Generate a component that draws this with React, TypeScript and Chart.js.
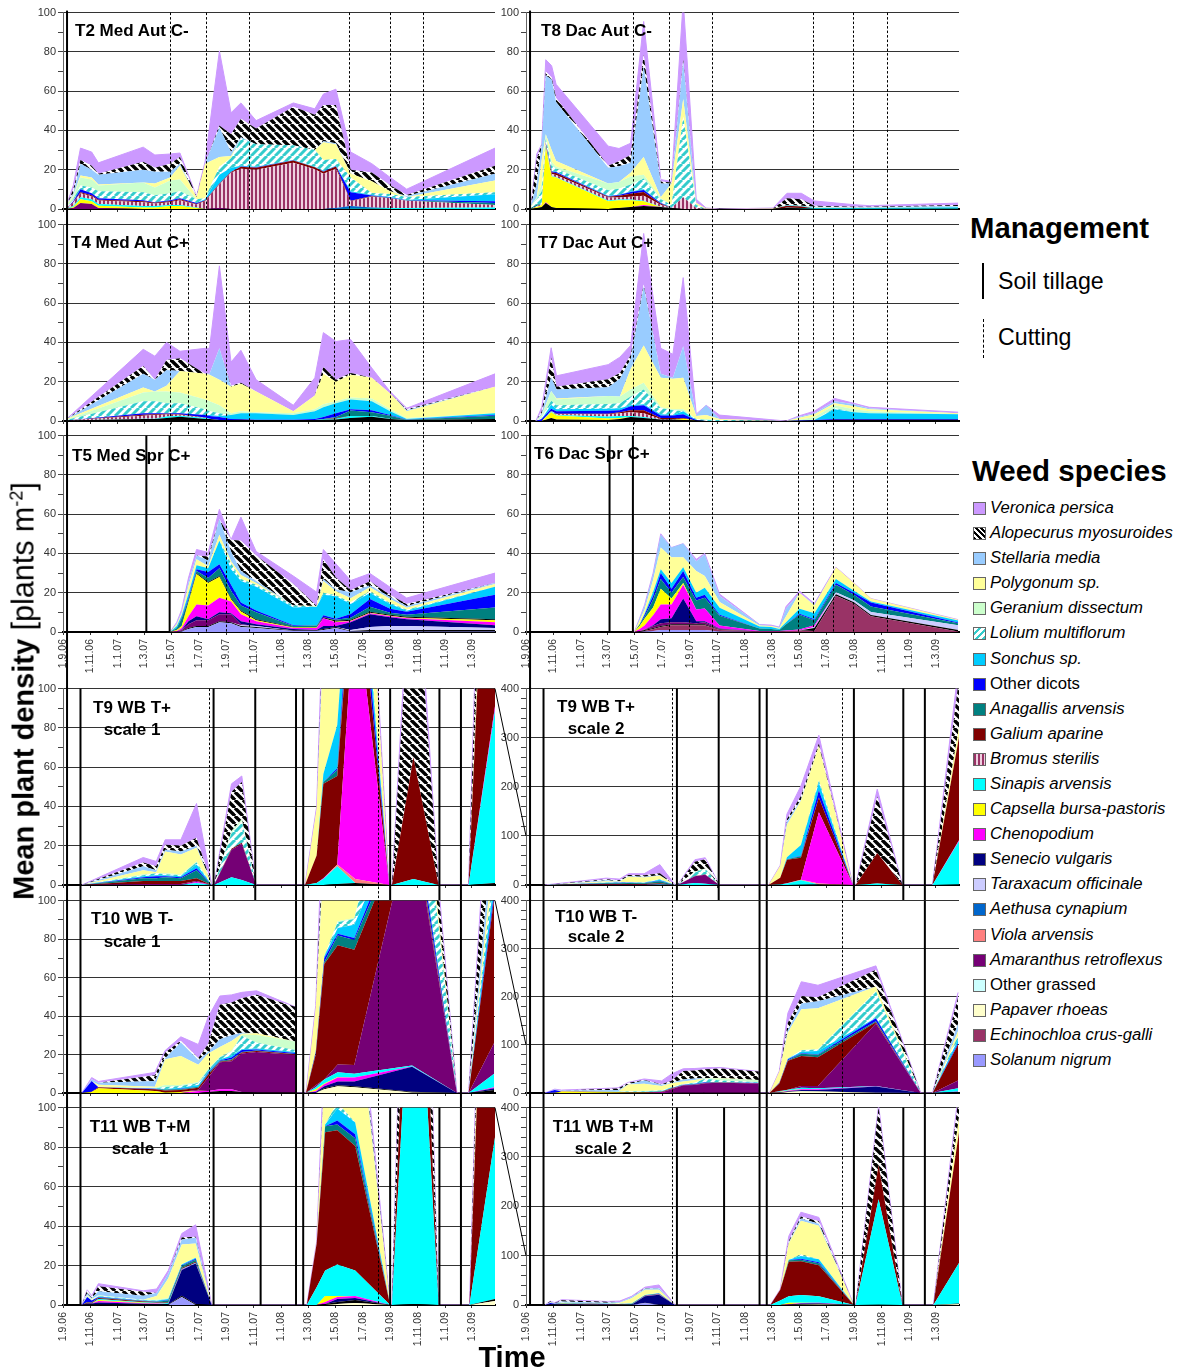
import React, { useEffect, useRef } from "react";
import { Chart, registerables } from "chart.js";

Chart.register(...registerables);

const FONT = '"Liberation Sans", Arial, sans-serif';

const TICK_DAYS = [0, 61, 122, 181, 242, 303, 365, 426, 487, 547, 608, 669, 731, 792, 853, 912];
const TICK_LABELS = ["1.9.06", "1.11.06", "1.1.07", "1.3.07", "1.5.07", "1.7.07", "1.9.07", "1.11.07", "1.1.08", "1.3.08", "1.5.08", "1.7.08", "1.9.08", "1.11.08", "1.1.09", "1.3.09"];

const LEGEND_KEYS = ["veronica", "alopecurus", "stellaria", "polygonum", "geranium", "lolium", "sonchus", "dicots", "anagallis", "galium", "bromus", "sinapis", "capsella", "chenopodium", "senecio", "taraxacum", "aethusa", "viola", "amaranthus", "grassed", "papaver", "echinochloa", "solanum"];
const LEGEND_NAMES = ["Veronica persica", "Alopecurus myosuroides", "Stellaria media", "Polygonum sp.", "Geranium dissectum", "Lolium multiflorum", "Sonchus sp.", "Other dicots", "Anagallis arvensis", "Galium aparine", "Bromus sterilis", "Sinapis arvensis", "Capsella bursa-pastoris", "Chenopodium", "Senecio vulgaris", "Taraxacum officinale", "Aethusa cynapium", "Viola arvensis", "Amaranthus retroflexus", "Other grassed", "Papaver rhoeas", "Echinochloa crus-galli", "Solanum nigrum"];
const LEGEND_UPRIGHT = ["Other dicots", "Other grassed"];

const COLORS: Record<string, string> = {
  veronica: "#CC99FF", stellaria: "#99CCFF", polygonum: "#FFFF99", geranium: "#CCFFCC", sonchus: "#00CCFF",
  dicots: "#0000FF", anagallis: "#008080", galium: "#800000", sinapis: "#00FFFF", capsella: "#FFFF00",
  chenopodium: "#FF00FF", senecio: "#000080", taraxacum: "#CCCCFF", aethusa: "#0066CC", viola: "#FF8080",
  amaranthus: "#750075", grassed: "#CCFFFF", papaver: "#FFFFCC", echinochloa: "#993366", solanum: "#9999FF",
  black: "#000000",
};

// ---- T2
const T2_DAYS = [8, 23, 39, 64, 79, 179, 205, 239, 261, 298, 317, 349, 375, 397, 431, 514, 562, 581, 609, 642, 689, 730, 767, 964];
const T2_AMARANTHUS = [0, 0.5, 3, 2.5, 0.5, 0, 0, 0, 0, 0, 0, 0.5, 0, 0, 0, 0, 0, 0, 0, 0, 0, 0, 0, 0];
const T2_CAPSELLA = [0, 0.5, 2, 1.5, 1.2, 0.8, 0.8, 1.5, 1.5, 0.5, 0, 0, 0, 0, 0, 0, 0, 0, 0, 0, 0, 0, 0, 0];
const T2_SINAPIS = [0.3, 0.5, 1, 1, 0.8, 0.7, 0.7, 0.5, 0.5, 0.3, 0, 0, 0, 0, 0, 0, 0, 0, 0, 0.2, 0.3, 0.5, 0.5, 0.8];
const T2_AETHUSA = [0, 0, 0, 0, 0, 0, 0, 0, 0, 0, 0, 0, 0, 0, 0, 0, 0, 0, 0.5, 1.3, 0.5, 0, 0, 0];
const T2_BROMUS = [0.2, 1.8, 2, 1.5, 1.8, 2, 1.3, 1.5, 2.5, 1.5, 4, 12, 18.5, 20.5, 20, 23.5, 20.2, 18, 20, 2.5, 5.5, 5, 3.7, 1.2];
const T2_GALIUM = [0, 0.2, 0.5, 0.5, 0.4, 0.5, 0.4, 0.5, 0.5, 0.2, 0.3, 0.3, 0.3, 1, 1, 1.2, 1, 1, 1.1, 0.2, 0.2, 0, 0, 0];
const T2_ANAGALLIS = [0, 0, 0, 0, 0, 0, 0, 0, 0, 0, 0, 0, 0, 0, 0, 0, 0, 0, 0, 0, 0.1, 0.1, 0.1, 1];
const T2_DICOTS = [0, 0.5, 1.5, 1, 0.8, 0.5, 0.3, 0.5, 0.5, 0.5, 0.2, 0.2, 0.2, 0.2, 0.2, 0.1, 0.1, 0.2, 0.2, 4.3, 0.3, 0.3, 0.1, 1];
const T2_SONCHUS = [0, 0, 0, 0, 0, 0, 0, 0, 0, 0, 0.5, 4.5, 2, 0.3, 0.3, 0.2, 0.2, 0.3, 0.2, 0.5, 0.2, 0.2, 0.2, 3.5];
const T2_LOLIUM = [0.5, 1, 2, 3, 3.5, 4, 3.5, 3.5, 3.5, 2, 0.5, 4, 5, 14, 11.5, 7.5, 8.5, 5.5, 3.5, 7, 1, 1.5, 1.5, 1];
const T2_GERANIUM = [0.5, 1.5, 4, 4, 3, 5, 4, 6.5, 6, 0, 0, 0, 0, 0, 0, 0, 0, 0, 0, 0, 0, 0, 0, 0];
const T2_POLYGONUM = [0.5, 0.5, 1, 1, 0.5, 0, 2, 1.5, 7, 1, 17.5, 5, 1, 0, 0, 0, 0, 9, 7.5, 2, 6, 1.5, 0, 6];
const T2_STELLARIA = [0, 1, 6, 4, 5, 6.5, 6, 3, 1, 0, 0, 15, 2, 0.5, 0, 0, 0, 0.5, 0.5, 0, 0, 0, 0.5, 3.5];
const T2_ALOPECURUS = [0, 2, 2, 2, 0.5, 4, 2, 4, 3.5, 0.5, 0, 1, 9, 9.5, 8, 19.5, 18, 18.5, 19.5, 2, 4.5, 3, 0.5, 4];
const T2_VERONICA = [0, 2, 6, 7, 5.5, 7.5, 6.5, 5, 2, 0, 1, 38, 11, 8, 4, 2, 3, 5.5, 8, 9, 4.5, 4, 3, 9];

// ---- T8
const T8_DAYS = [11, 24, 35, 44, 57, 67, 183, 207, 233, 262, 300, 324, 350, 379, 401, 431, 550, 581, 613, 642, 730, 764, 962];
const T8_BLACK = [0, 0.5, 1, 3, 1, 0.5, 0, 0.5, 1, 1.5, 1, 0.5, 0, 0, 0, 0, 0, 0.5, 0.3, 0, 0, 0, 0];
const T8_CHENOPODIUM = [0, 0, 0, 0.5, 0, 0, 0, 0, 0, 0.5, 0, 0, 0, 0, 0, 0, 0, 0, 0, 0, 0, 0, 0];
const T8_CAPSELLA = [0, 0.5, 1, 28, 15.5, 15.5, 4, 4, 3.5, 2, 0, 0, 0, 0, 0, 0, 0, 0, 0, 0, 0, 0, 0];
const T8_SINAPIS = [0, 0, 0, 0.5, 0.3, 0.3, 0.3, 0.3, 0.3, 0.2, 0.2, 0, 0, 0, 0, 0, 0, 0.2, 0.2, 0.2, 0.2, 0.2, 0.3];
const T8_BROMUS = [0, 0.5, 0.5, 1, 1, 1, 1.5, 1, 1.5, 2.5, 1, 0.2, 6, 0.5, 0, 0, 0, 0, 0, 0, 0, 0, 0];
const T8_GALIUM = [0, 0, 0, 0.5, 0.8, 1, 0.5, 1, 1.5, 2, 0.5, 0, 0, 0, 0, 0, 0, 1, 0.8, 0.1, 0.1, 0.1, 0.1];
const T8_ANAGALLIS = [0.5, 0.8, 0, 0, 0, 0, 0, 0, 0, 0, 0, 0, 0, 0, 0, 0, 0, 0, 0, 0, 0, 0, 0];
const T8_DICOTS = [0, 0, 0, 0.3, 0.5, 0.5, 0.2, 0.3, 0.8, 1, 0.3, 0, 0, 0, 0, 0, 0, 0, 0, 0, 0, 0, 0];
const T8_SONCHUS = [0, 0, 0, 0.2, 0.2, 0.2, 0.3, 0.2, 0.3, 0.3, 0.2, 0.2, 0, 0, 0, 0, 0, 0.2, 0.2, 0.2, 0.2, 0.2, 0.5];
const T8_LOLIUM = [0.5, 2.7, 6.5, 2, 2.7, 1.5, 2.7, 3, 3.6, 5.5, 1.8, 1.1, 41, 1.5, 0, 0, 0, 0, 0, 0, 0, 0, 0];
const T8_GERANIUM = [0, 1, 4, 2, 2, 1, 3.5, 3.5, 4, 2, 0.5, 0, 0, 0, 0, 0, 0, 0.2, 0.2, 0.2, 0.2, 0.2, 0.2];
const T8_POLYGONUM = [0.5, 0, 12, 0, 6, 3, 0, 0, 2, 9, 0.5, 11, 9, 1, 0.3, 0, 0.2, 0, 0, 0.1, 0, 0, 0];
const T8_STELLARIA = [0.5, 7, 8, 30, 36, 30, 8, 8, 5, 46, 7, 0, 19, 0, 0, 0, 0, 0, 0, 0.3, 0.2, 0.2, 0.4];
const T8_ALOPECURUS = [0, 13, 0, 2, 1, 2, 1, 2.5, 4, 6, 1, 0.5, 1, 0, 0, 0, 0, 3.4, 3.3, 0.5, 0.3, 0.3, 0.5];
const T8_VERONICA = [0, 2, 0, 6, 6, 7, 10, 6.5, 6, 17, 1, 0.5, 30, 2, 0.2, 0, 0.3, 2.5, 3, 2.5, 1, 0.5, 1];

// ---- T4
const T4_DAYS = [8, 179, 205, 231, 261, 317, 327, 349, 375, 397, 431, 514, 562, 581, 609, 642, 689, 730, 767, 964];
const T4_BLACK = [0.2, 1, 1, 1.5, 2.2, 1, 1, 0.5, 0.5, 0.7, 0.5, 0.5, 0.5, 0.7, 0.8, 1.5, 2.2, 1, 0.5, 1];
const T4_SINAPIS = [0, 0.2, 0.2, 0.8, 0.5, 0.5, 0.2, 0, 0, 0, 0, 0, 0, 0.3, 0.4, 1, 0.3, 0.2, 0, 0];
const T4_BROMUS = [0, 1.5, 1.8, 1, 0.5, 0.2, 0, 0, 0, 0, 0, 0, 0, 0, 0, 0, 0, 0, 0, 0];
const T4_GALIUM = [0, 0.5, 0.5, 0.4, 0.3, 0.1, 0, 0, 0, 0, 0, 0, 0, 0, 0.3, 0, 0, 0, 0, 0];
const T4_ANAGALLIS = [0, 0, 0, 0, 0, 0, 0, 0, 0, 0, 0, 0, 0, 0, 0.5, 2.8, 2, 1.5, 0.2, 1.7];
const T4_DICOTS = [0, 0.8, 0.5, 0.3, 0.5, 1.2, 1.3, 1.5, 0.5, 0.3, 0.2, 0.2, 0.5, 1, 2, 0.7, 1, 0.3, 0.1, 0.3];
const T4_SONCHUS = [0, 0, 0, 0, 0, 0, 0.5, 0.5, 2, 3, 3.3, 2.3, 4, 5, 5, 5, 4.5, 2, 0.2, 1];
const T4_LOLIUM = [0.3, 6, 6, 5, 5, 3, 2, 1.5, 0, 0, 0, 0, 0, 0, 0, 0, 0, 0, 0, 0];
const T4_GERANIUM = [0.2, 4.5, 5, 6, 5.5, 5, 5, 4, 1, 1, 0.5, 1, 1, 1.5, 1, 1, 1.5, 1, 0.5, 0];
const T4_POLYGONUM = [0.3, 2.5, 0, 3, 11, 13, 13.5, 13, 13.5, 14, 10.5, 1, 7, 15.5, 10, 11.5, 10.5, 8, 3.5, 13.5];
const T4_STELLARIA = [0, 7, 6, 8, 0, 0, 0.5, 16, 0, 0, 0, 0, 0, 0, 0, 0, 0, 0, 0.5, 0];
const T4_ALOPECURUS = [0, 4, 0, 5, 6.5, 0, 0, 0, 0.5, 0.5, 0, 0, 0, 3.5, 1, 1, 0, 0, 0.5, 0];
const T4_VERONICA = [0, 8.5, 12, 9, 3.5, 13, 13, 42, 12, 16.5, 6, 3, 9, 17.5, 19.5, 17, 5, 1, 0.5, 6.5];

// ---- T7
const T7_DAYS = [22, 35, 56, 68, 183, 209, 233, 262, 300, 327, 350, 379, 401, 431, 579, 609, 642, 687, 730, 764, 962];
const T7_BLACK = [0, 0, 1.5, 0.8, 0.5, 1, 2, 1.5, 0.8, 0.8, 0.5, 0.2, 0, 0, 0, 0, 0.3, 0.7, 0.7, 0.7, 0.7];
const T7_CAPSELLA = [0, 0, 3, 2, 0.8, 0.5, 0, 0, 0, 0, 0.7, 0, 0, 0, 0, 0, 0, 0, 0, 0, 0];
const T7_SINAPIS = [0, 0, 0.3, 0.2, 1, 1, 0.5, 0.5, 0, 0, 0, 0, 0, 0, 0, 0, 0, 0, 0, 0, 0];
const T7_BROMUS = [0, 0, 0.3, 0.5, 1.2, 1.5, 2, 2, 0.2, 0.2, 0, 0, 0, 0, 0, 0, 0, 0, 0, 0, 0];
const T7_GALIUM = [0, 0, 0, 0.2, 0.2, 0.5, 1, 1.5, 0.5, 0.5, 0.3, 0, 0, 0, 0, 0, 0, 0, 0, 0, 0];
const T7_DICOTS = [0, 1, 1.2, 1.3, 1.5, 1, 2, 2.5, 1.3, 1.3, 2, 0.3, 0, 0, 0, 0.2, 0.2, 0.3, 0.3, 0.3, 0.3];
const T7_SONCHUS = [0, 0, 2, 1, 1, 1, 0.5, 0.5, 0.7, 0.2, 1.5, 0, 0, 0, 0, 0, 0, 5, 3.5, 3, 2.5];
const T7_LOLIUM = [0, 0.5, 2, 2, 2.5, 2.5, 4.5, 7.5, 3, 2.5, 0, 0.5, 0.5, 0.5, 0, 0, 0, 0.5, 0, 0, 0];
const T7_GERANIUM = [0, 1, 5, 3, 4, 3.5, 3.5, 3.5, 0.5, 0.5, 1, 0, 0.5, 0, 0, 0.5, 1.5, 1.5, 1.5, 1, 0];
const T7_POLYGONUM = [0, 0.5, 0, 0.5, 0, 0, 10.5, 19, 15, 15.5, 16, 1.5, 2, 0.5, 0, 1, 1.5, 1, 1.5, 1, 0.5];
const T7_STELLARIA = [0, 1, 7, 4.5, 4.5, 9, 5, 30, 2, 0.5, 16, 0.5, 5, 0, 0, 0.5, 0.5, 1, 1, 0.5, 0];
const T7_ALOPECURUS = [0, 1, 10, 1.5, 4, 3, 2, 1, 0, 0, 0, 0, 0, 0, 0, 0, 0, 0, 0, 0, 0];
const T7_VERONICA = [0, 2, 5, 5.5, 7.5, 8, 5, 26, 13, 12, 35, 0.5, 0, 2, 0, 0.5, 1, 1.5, 0.5, 0.5, 0.5];

// ---- T5
const T5_DAYS = [239, 254, 265, 280, 298, 324, 349, 375, 397, 431, 514, 566, 581, 609, 642, 685, 730, 767, 964];
const T5_SOLANUM = [0, 0, 0.3, 1.5, 2.5, 2.5, 5, 4.5, 2.5, 2, 0.5, 0.5, 1, 2, 0.3, 0.3, 0.3, 0.3, 0.3];
const T5_BLACK = [0, 0, 0.2, 0.5, 0.5, 0.5, 0.5, 0.5, 0.5, 0.5, 0.3, 0.3, 0.5, 0.5, 0.2, 0.7, 0.7, 0.7, 0.7];
const T5_TARAXACUM = [0, 0, 0, 0, 0, 0, 0, 0, 0.5, 0.5, 0, 0, 0, 0, 0.5, 1.5, 2, 2, 1];
const T5_AMARANTHUS = [0, 0.2, 0.5, 2, 3, 3, 3.5, 4, 0.5, 0, 0, 0, 0, 0, 0, 0, 0, 0, 0];
const T5_SENECIO = [0, 0, 0.3, 1.5, 2, 0.5, 1, 0.5, 1.5, 1, 0.7, 0.2, 1.5, 0.5, 4, 6.5, 4.5, 3.5, 1.5];
const T5_CHENOPODIUM = [0, 0.3, 0.7, 2.5, 6, 7, 7.5, 6, 3.5, 1.5, 0.5, 1, 4, 2, 0.5, 0.5, 0.5, 0.5, 1.5];
const T5_CAPSELLA = [0, 0.5, 1, 7, 15.5, 11.5, 10.5, 1, 1.5, 0.5, 0.3, 0.3, 0, 0.2, 0.2, 0.3, 0.3, 0.3, 1];
const T5_BLACK2 = [0, 0.2, 0.3, 0.5, 0.5, 0.5, 0.5, 0.5, 0.5, 0.5, 0.3, 0.3, 0.5, 0.5, 0.5, 0.5, 0.5, 0.5, 0.5];
const T5_ANAGALLIS = [0, 0.8, 3.7, 1, 1, 2, 4, 4, 2.5, 3.5, 0.4, 0.7, 0, 0.5, 1, 2.5, 1, 1, 6];
const T5_DICOTS = [0, 0, 0.5, 1, 1, 3, 2, 3, 1.5, 1, 0.5, 0, 1, 0.5, 2, 4, 2, 1.5, 6.5];
const T5_SONCHUS = [0, 1, 1, 2, 2, 2, 12, 8, 11, 12, 9, 9.5, 10.5, 11.5, 5, 3, 2.5, 0.5, 4];
const T5_LOLIUM = [0, 0, 0, 0, 0, 0, 0, 3, 1, 1, 1, 0, 1, 0.5, 1, 1, 0.5, 0.5, 0];
const T5_POLYGONUM = [0, 1, 1, 4, 3, 1, 3, 1, 2, 1, 0, 0.5, 6, 2, 2, 2, 2, 1, 1.5];
const T5_STELLARIA = [0, 0.5, 1, 2, 2, 3, 8, 5, 2, 1, 0, 0, 1, 1, 3, 1, 1, 1, 0.5];
const T5_ALOPECURUS = [0, 0, 0, 0, 0, 2, 0, 6, 15.5, 13, 11, 0, 10, 6, 1, 2, 1, 1, 0];
const T5_VERONICA = [0, 0.5, 1, 2, 3, 2, 5, 0, 12, 2, 4, 7, 5, 7, 5, 4, 4, 3, 5];

// ---- T6
const T6_DAYS = [241, 253, 264, 283, 300, 324, 350, 379, 398, 431, 520, 546, 564, 579, 609, 642, 690, 730, 768, 962];
const T6_SOLANUM = [0, 0, 0.2, 0.5, 1, 1, 1, 1, 1, 0.3, 0, 0, 0, 0, 0, 0, 0, 0, 0, 0];
const T6_ECHINOCHLOA = [0, 0, 0.3, 1, 1.5, 2.5, 2.5, 2.5, 2.5, 0.7, 0.3, 0.3, 0.3, 0.5, 0.8, 0.5, 18.5, 14.5, 8, 0.3];
const T6_BLACK = [0, 0.3, 0.5, 0.5, 0.5, 0.5, 0.5, 0.5, 0.5, 0.3, 0, 0, 0, 0, 0, 1.5, 0.7, 0.7, 0.7, 0.7];
const T6_TARAXACUM = [0, 0, 0, 0, 0, 0, 0, 0, 0, 0, 0, 0, 0, 0, 0, 0.5, 1, 1, 1.5, 2.5];
const T6_AMARANTHUS = [0, 0.2, 0.3, 1, 1.5, 1, 1, 0.5, 1, 0.2, 0, 0, 0, 0, 0, 0, 0, 0, 0, 0];
const T6_SENECIO = [0, 0, 0, 0.5, 2, 2, 12, 1, 0.5, 0.3, 0, 0, 0, 0, 0, 0, 0, 0, 0, 0];
const T6_CHENOPODIUM = [0, 1, 2, 5, 7.5, 7, 7, 6, 6.5, 1.5, 0.2, 0.2, 0.2, 0.3, 0.5, 1, 0, 0, 0, 0];
const T6_CAPSELLA = [0, 1.5, 3.5, 4, 8, 3, 1, 0, 0, 0, 0, 0, 0, 0, 0, 0, 0, 0, 0, 0];
const T6_ANAGALLIS = [0, 1, 1, 4, 5, 3, 3, 4.5, 5.5, 5, 1.3, 1, 0.5, 3.2, 7.5, 2.5, 3.8, 2.8, 2.8, 1];
const T6_DICOTS = [0, 0, 1, 2, 3, 2, 3, 1.5, 1.5, 0.5, 0, 0, 0, 0, 0.5, 0.5, 1, 1, 2, 0.3];
const T6_SONCHUS = [0, 0, 0.5, 2, 2, 3, 2, 2.5, 3.5, 3.5, 1, 1, 0.5, 1, 2.5, 3, 2, 1, 0.5, 1];
const T6_POLYGONUM = [0, 2, 2, 6, 11, 13, 5, 11, 6, 3, 0.5, 0.5, 0.5, 3, 8, 4, 6, 4, 1.5, 0.5];
const T6_STELLARIA = [0, 1, 2, 3, 6.5, 5, 7, 5, 11, 3, 0.5, 0, 0.5, 4, 0, 0.5, 0, 0, 0, 0];
const T6_VERONICA = [0, 0, 0.5, 0.5, 0.5, 0, 0, 1, 0.5, 1, 0, 0.5, 0, 1, 1, 0.5, 0, 0, 0, 0];

// ---- T9
const T9_DAYS = [42, 179, 208, 228, 263, 298, 332, 337, 376, 399, 431, 540, 566, 581, 612, 652, 728, 734, 782, 838, 905, 964];
const T9_BLACK = [0, 0, 0, 0, 0, 0, 0, 0, 0, 0, 0, 0, 0, 0, 0.5, 1, 0, 0, 0, 0, 0, 1];
const T9_SINAPIS = [0, 0, 0, 0, 0, 1, 0, 0, 4, 2.5, 0, 0, 1, 3, 9, 0, 0, 0, 3, 0, 0, 88];
const T9_VIOLA = [0, 0, 0, 0, 0, 0, 0, 0, 0, 0, 0, 0, 0, 0, 1, 2, 0, 0, 0, 0, 0, 0];
const T9_CHENOPODIUM = [0, 0, 0, 0, 0, 0.5, 0, 0, 0, 0, 0, 0, 0, 0.5, 0, 145, 0, 0, 0, 0, 0, 2];
const T9_AMARANTHUS = [0, 0.5, 0.5, 0.5, 0.5, 0.5, 0, 0, 14, 18.5, 0, 0, 0, 0, 0, 0, 0, 0, 0, 0, 0, 0];
const T9_GALIUM = [0, 1.5, 1.5, 1.5, 1.5, 1.5, 0, 0, 0.5, 0.5, 0, 0, 14, 48, 45, 30, 0, 0, 62, 0, 0, 210];
const T9_ANAGALLIS = [0, 1.5, 1.5, 2, 1.5, 4, 0, 0, 0, 0, 0, 0, 0, 1, 3, 0, 0, 0, 0, 0, 0, 0];
const T9_DICOTS = [0, 0.5, 1, 0.5, 0.5, 1, 0, 0, 0, 0, 0, 0, 0, 0, 1, 15, 0, 0, 0, 0, 0, 0];
const T9_SONCHUS = [0, 0.5, 0.5, 0.5, 0.5, 2, 0, 0, 0, 0, 0, 0, 0, 4, 22, 15, 0, 0, 0, 0, 0, 0];
const T9_LOLIUM = [0, 0.5, 1, 0.5, 0.5, 1, 0, 0, 8, 11, 0, 0, 0, 0, 0, 5, 0, 0, 0, 0, 0, 0];
const T9_GERANIUM = [0, 0.5, 0, 0.5, 0.5, 0.5, 0, 0, 1, 1, 0, 0, 0, 0, 0, 0, 0, 0, 0, 0, 0, 0];
const T9_POLYGONUM = [0, 2, 0.5, 11, 10, 7, 0, 0, 0, 0, 0, 0, 24, 66, 90, 70, 0, 0, 0, 0, 0, 20];
const T9_STELLARIA = [0, 2, 1, 1, 1.5, 1, 0, 0, 0, 0, 0, 0, 0, 7, 2, 0, 0, 0, 0, 0, 0, 0];
const T9_ALOPECURUS = [0, 2, 2, 2.5, 3, 4, 0, 0, 20, 19, 0, 0, 0, 5, 8, 5, 0, 0, 115, 0, 0, 100];
const T9_VERONICA = [0, 2.5, 2.5, 2.5, 3, 17.5, 0, 0, 4, 3, 0, 0, 1, 10, 20, 17, 0, 0, 15, 0, 0, 30];

// ---- T10
const T10_DAYS = [42, 64, 79, 205, 228, 263, 302, 324, 350, 376, 399, 432, 518, 519, 542, 564, 583, 613, 650, 779, 879, 905, 962];
const T10_PAPAVER = [0, 0, 0, 0, 0, 0, 0, 0, 0, 0, 0, 0, 0, 0, 0, 0, 2, 3.5, 3, 0.3, 0, 0, 0];
const T10_BLACK = [0, 0, 0, 0, 0, 0, 0, 0.5, 1, 1, 0.5, 0.3, 0.3, 0, 0, 0, 0.5, 0.5, 0.5, 0.3, 0, 0, 1.5];
const T10_SENECIO = [0, 0, 0, 0, 0, 0, 0, 0, 0, 0, 0, 0, 0, 0, 0, 0.5, 1, 2, 2.5, 13, 0, 0, 1];
const T10_CHENOPODIUM = [0, 0, 0, 0, 0, 0, 1, 0.5, 1, 1, 0, 0, 0, 0, 0, 0.5, 1, 2, 2, 0.2, 0, 0, 0.5];
const T10_CAPSELLA = [0, 0.5, 2.5, 1, 0.3, 0.5, 0.2, 0, 0, 0, 0, 0, 0, 0, 0, 1, 0.5, 0.3, 0, 0, 0, 0, 0];
const T10_SINAPIS = [0, 0, 0, 0, 0, 0, 0, 0, 0, 0, 0, 0, 0, 0, 0, 1, 2, 2.5, 2, 0.5, 0, 0, 7];
const T10_AMARANTHUS = [0, 0, 0, 0, 0, 0, 0.5, 7, 14, 14.5, 20, 21, 19.5, 0, 0, 1, 0, 4, 4.5, 130, 0, 0, 16];
const T10_GALIUM = [0, 0.2, 0.5, 1, 1, 1, 1, 1.5, 0.3, 0.5, 0.5, 0.5, 0.3, 0, 0, 16, 60, 62, 60, 3, 0, 0, 75];
const T10_ANAGALLIS = [0, 0, 0, 0, 0.5, 0.5, 0.5, 0.5, 0.3, 0.5, 0.3, 0.3, 0.2, 0, 0, 0.5, 1, 5, 5, 2, 0, 0, 0];
const T10_DICOTS = [0, 5.5, 0, 0.2, 0, 0.2, 0, 0.5, 0.3, 1, 1, 0.5, 0.5, 0, 0, 1, 2, 1, 1, 6, 0, 0, 3];
const T10_SONCHUS = [0, 0, 0, 0.2, 0.3, 0.5, 1, 0.5, 0.5, 1, 0.5, 0.5, 0.5, 0, 0, 0, 1, 3, 7, 1, 0, 0, 7];
const T10_LOLIUM = [0, 0, 0, 0, 1, 1, 1, 1, 1, 2, 7, 3, 1, 0, 0, 0, 0, 3, 3, 55, 0, 0, 8];
const T10_GERANIUM = [0, 0, 0.3, 0.3, 1, 0.5, 0.5, 0.5, 0.5, 0.5, 0.5, 4, 4.5, 0, 0, 0, 0, 0.5, 0.5, 0, 0, 0, 0];
const T10_POLYGONUM = [0, 0, 1, 0.5, 13.5, 15, 9, 8, 5, 5, 0.5, 1, 0, 0, 0, 23, 55, 85, 85, 10, 0, 0, 10];
const T10_STELLARIA = [0, 1, 1, 3, 0.5, 7, 2.5, 1, 4, 3, 0.5, 0, 0, 0, 0, 0, 5, 12, 15, 0, 0, 0, 15];
const T10_ALOPECURUS = [0, 0, 0, 3, 3, 1, 1, 4, 18, 17, 18, 20, 18, 0, 0, 0, 15, 15, 8, 35, 0, 0, 55];
const T10_VERONICA = [0, 0.8, 0.7, 1.5, 1, 2, 7, 14, 4.5, 4, 3, 2, 0, 0, 0, 1, 20, 30, 25, 8, 0, 0, 10];

// ---- T11
const T11_DAYS = [42, 54, 64, 79, 179, 209, 235, 265, 296, 332, 544, 566, 585, 612, 652, 730, 734, 785, 838, 907, 964];
const T11_SOLANUM = [0, 0, 0, 0, 0, 0, 0, 4, 0, 0, 0, 0, 0, 0, 0, 0, 0, 0, 0, 0, 0];
const T11_PAPAVER = [0, 0, 0, 0, 0, 0, 0, 0, 0, 0, 0, 0, 0, 0.5, 1, 0, 0, 0, 0, 0, 2];
const T11_BLACK = [0, 0.3, 0.3, 0.3, 0.3, 0.2, 0.2, 0.7, 0.5, 0, 0, 0, 0.5, 1, 1.5, 0, 0, 0.5, 0, 0, 1];
const T11_SENECIO = [0, 0.5, 0.5, 1, 0.3, 0.3, 0.3, 13, 20.5, 0, 0, 0, 0, 1.5, 1, 0, 0, 0, 0, 0, 0];
const T11_CHENOPODIUM = [0, 0, 0, 0.7, 0.3, 0.2, 0, 0.3, 0.2, 0, 0, 0, 1, 1, 1, 0, 0, 0, 0, 0, 0];
const T11_CAPSELLA = [0, 0, 0, 0.5, 0.2, 0.2, 0, 0, 0, 0, 0, 0, 3, 0.5, 0, 0, 0, 0, 0, 0, 0];
const T11_SINAPIS = [0, 0, 0, 0.5, 0.3, 0.2, 0.5, 0.2, 0.2, 0, 0, 9, 13, 16, 13, 0, 0, 214, 0, 0, 82];
const T11_GALIUM = [0, 0.5, 0.3, 0.5, 0.4, 0.4, 0.3, 0.5, 0.5, 0, 0, 22, 70, 68, 63, 0, 0, 69, 0, 0, 265];
const T11_ANAGALLIS = [0, 0.2, 0.2, 0.3, 0.2, 0.2, 1, 1, 1, 0, 0, 0, 3, 3, 4, 0, 0, 0, 0, 0, 0];
const T11_DICOTS = [0, 2.5, 1, 0.2, 0.1, 0.1, 0.2, 0.3, 0.5, 0, 0, 0, 0, 2, 2, 0, 0, 0, 0, 0, 0];
const T11_SONCHUS = [0, 0, 0, 0.3, 0.2, 0.3, 0.5, 0.5, 0.5, 0, 0, 0, 1, 6, 6, 0, 0, 0, 0, 0, 0];
const T11_LOLIUM = [0, 0, 0, 0.2, 0.2, 0.2, 0, 0, 0, 0, 0, 0, 0, 3, 0, 0, 0, 0, 0, 0, 0];
const T11_GERANIUM = [0, 0.5, 0.2, 0.5, 0.2, 0.3, 0.5, 0.2, 0.2, 0, 0, 0, 0, 0, 0, 0, 0, 0, 0, 0, 0];
const T11_POLYGONUM = [0, 0.5, 0.5, 0, 0, 2, 10, 10, 7, 0, 0, 1, 33, 68, 68, 0, 0, 0, 0, 0, 30];
const T11_STELLARIA = [0, 1, 0.5, 2, 2, 1.5, 2.5, 2.5, 3, 0, 0, 0, 2, 5, 4, 0, 0, 0, 0, 0, 0];
const T11_ALOPECURUS = [0, 1.5, 0.5, 2.5, 2, 0, 0, 1, 0.5, 0, 0, 0, 3, 4, 5, 0, 0, 117, 0, 0, 50];
const T11_VERONICA = [0, 0.2, 0.7, 1.3, 0.5, 2, 1.5, 2, 6, 0, 0, 0, 10, 8.5, 8, 0, 0, 5, 0, 0, 10];

// ---- management dates (days since 1.9.06)
const AXIS_TILLAGE = [9];
const AUT_CUTS = [238, 318, 414, 639, 729, 804];
const AUT_CPLUS_CUTS = [238, 279, 318, 363, 414, 605, 638, 683, 729, 804];
const SPR_CUTS = [318, 363, 414, 605, 638, 683, 729, 804];
const SPR_TILLAGE = [186, 238];
const WB_CUTS = [326, 704];
const T9_TILLAGE = [39, 336, 429, 520, 536, 730, 840, 888];
const T10_TILLAGE = [39, 520, 536, 888];
const T11_TILLAGE = [39, 336, 441, 520, 536, 730, 840, 888];

type Layer = [string, number[]];

const T2_LAYERS: Layer[] = [["amaranthus", T2_AMARANTHUS], ["capsella", T2_CAPSELLA], ["sinapis", T2_SINAPIS], ["aethusa", T2_AETHUSA], ["bromus", T2_BROMUS], ["galium", T2_GALIUM], ["anagallis", T2_ANAGALLIS], ["dicots", T2_DICOTS], ["sonchus", T2_SONCHUS], ["lolium", T2_LOLIUM], ["geranium", T2_GERANIUM], ["polygonum", T2_POLYGONUM], ["stellaria", T2_STELLARIA], ["alopecurus", T2_ALOPECURUS], ["veronica", T2_VERONICA]];
const T8_LAYERS: Layer[] = [["black", T8_BLACK], ["chenopodium", T8_CHENOPODIUM], ["capsella", T8_CAPSELLA], ["sinapis", T8_SINAPIS], ["bromus", T8_BROMUS], ["galium", T8_GALIUM], ["anagallis", T8_ANAGALLIS], ["dicots", T8_DICOTS], ["sonchus", T8_SONCHUS], ["lolium", T8_LOLIUM], ["geranium", T8_GERANIUM], ["polygonum", T8_POLYGONUM], ["stellaria", T8_STELLARIA], ["alopecurus", T8_ALOPECURUS], ["veronica", T8_VERONICA]];
const T4_LAYERS: Layer[] = [["black", T4_BLACK], ["sinapis", T4_SINAPIS], ["bromus", T4_BROMUS], ["galium", T4_GALIUM], ["anagallis", T4_ANAGALLIS], ["dicots", T4_DICOTS], ["sonchus", T4_SONCHUS], ["lolium", T4_LOLIUM], ["geranium", T4_GERANIUM], ["polygonum", T4_POLYGONUM], ["stellaria", T4_STELLARIA], ["alopecurus", T4_ALOPECURUS], ["veronica", T4_VERONICA]];
const T7_LAYERS: Layer[] = [["black", T7_BLACK], ["capsella", T7_CAPSELLA], ["sinapis", T7_SINAPIS], ["bromus", T7_BROMUS], ["galium", T7_GALIUM], ["dicots", T7_DICOTS], ["sonchus", T7_SONCHUS], ["lolium", T7_LOLIUM], ["geranium", T7_GERANIUM], ["polygonum", T7_POLYGONUM], ["stellaria", T7_STELLARIA], ["alopecurus", T7_ALOPECURUS], ["veronica", T7_VERONICA]];
const T5_LAYERS: Layer[] = [["solanum", T5_SOLANUM], ["black", T5_BLACK], ["taraxacum", T5_TARAXACUM], ["amaranthus", T5_AMARANTHUS], ["senecio", T5_SENECIO], ["chenopodium", T5_CHENOPODIUM], ["capsella", T5_CAPSELLA], ["black", T5_BLACK2], ["anagallis", T5_ANAGALLIS], ["dicots", T5_DICOTS], ["sonchus", T5_SONCHUS], ["lolium", T5_LOLIUM], ["polygonum", T5_POLYGONUM], ["stellaria", T5_STELLARIA], ["alopecurus", T5_ALOPECURUS], ["veronica", T5_VERONICA]];
const T6_LAYERS: Layer[] = [["solanum", T6_SOLANUM], ["echinochloa", T6_ECHINOCHLOA], ["black", T6_BLACK], ["taraxacum", T6_TARAXACUM], ["amaranthus", T6_AMARANTHUS], ["senecio", T6_SENECIO], ["chenopodium", T6_CHENOPODIUM], ["capsella", T6_CAPSELLA], ["anagallis", T6_ANAGALLIS], ["dicots", T6_DICOTS], ["sonchus", T6_SONCHUS], ["polygonum", T6_POLYGONUM], ["stellaria", T6_STELLARIA], ["veronica", T6_VERONICA]];
const T9_LAYERS: Layer[] = [["black", T9_BLACK], ["sinapis", T9_SINAPIS], ["viola", T9_VIOLA], ["chenopodium", T9_CHENOPODIUM], ["amaranthus", T9_AMARANTHUS], ["galium", T9_GALIUM], ["anagallis", T9_ANAGALLIS], ["dicots", T9_DICOTS], ["sonchus", T9_SONCHUS], ["lolium", T9_LOLIUM], ["geranium", T9_GERANIUM], ["polygonum", T9_POLYGONUM], ["stellaria", T9_STELLARIA], ["alopecurus", T9_ALOPECURUS], ["veronica", T9_VERONICA]];
const T10_LAYERS: Layer[] = [["papaver", T10_PAPAVER], ["black", T10_BLACK], ["senecio", T10_SENECIO], ["chenopodium", T10_CHENOPODIUM], ["capsella", T10_CAPSELLA], ["sinapis", T10_SINAPIS], ["amaranthus", T10_AMARANTHUS], ["galium", T10_GALIUM], ["anagallis", T10_ANAGALLIS], ["dicots", T10_DICOTS], ["sonchus", T10_SONCHUS], ["lolium", T10_LOLIUM], ["geranium", T10_GERANIUM], ["polygonum", T10_POLYGONUM], ["stellaria", T10_STELLARIA], ["alopecurus", T10_ALOPECURUS], ["veronica", T10_VERONICA]];
const T11_LAYERS: Layer[] = [["solanum", T11_SOLANUM], ["papaver", T11_PAPAVER], ["black", T11_BLACK], ["senecio", T11_SENECIO], ["chenopodium", T11_CHENOPODIUM], ["capsella", T11_CAPSELLA], ["sinapis", T11_SINAPIS], ["galium", T11_GALIUM], ["anagallis", T11_ANAGALLIS], ["dicots", T11_DICOTS], ["sonchus", T11_SONCHUS], ["lolium", T11_LOLIUM], ["geranium", T11_GERANIUM], ["polygonum", T11_POLYGONUM], ["stellaria", T11_STELLARIA], ["alopecurus", T11_ALOPECURUS], ["veronica", T11_VERONICA]];

// ---- layout
const COLUMN_LEFT = [63, 526];
const COLUMN_RIGHT = [495, 959];
const ROW_TOP = [11.5, 223.5, 434.5, 687.5, 899.5, 1106.5];
const ROW_BOTTOM = [208.5, 420.5, 631, 884.5, 1092.5, 1304.5];
const ROW_PAD = [20, 20, 56, 20, 20, 56];
const ROW_LINE_EXT = [15, 14, 0, 15, 14, 0];
const ROW_AXIS_EXT = [15, 14, 56, 15, 14, 0];
const LEFT_GUTTER = 36;
const TOP_GUTTER = 8;

type PanelDef = {
  col: number; row: number; layers: Layer[]; days: number[]; yMax: number;
  tillage: number[]; cuts: number[]; title: string[]; tx: number; ty: number[]; centered: boolean;
};

const PANELS: PanelDef[] = [
  { col: 0, row: 0, layers: T2_LAYERS, days: T2_DAYS, yMax: 100, tillage: [], cuts: AUT_CUTS, title: ["T2 Med Aut C-"], tx: 75, ty: [31], centered: false },
  { col: 1, row: 0, layers: T8_LAYERS, days: T8_DAYS, yMax: 100, tillage: [], cuts: AUT_CUTS, title: ["T8 Dac Aut C-"], tx: 541, ty: [31], centered: false },
  { col: 0, row: 1, layers: T4_LAYERS, days: T4_DAYS, yMax: 100, tillage: [], cuts: AUT_CPLUS_CUTS, title: ["T4 Med Aut C+"], tx: 71, ty: [243], centered: false },
  { col: 1, row: 1, layers: T7_LAYERS, days: T7_DAYS, yMax: 100, tillage: [], cuts: AUT_CPLUS_CUTS, title: ["T7 Dac Aut C+"], tx: 538, ty: [243], centered: false },
  { col: 0, row: 2, layers: T5_LAYERS, days: T5_DAYS, yMax: 100, tillage: SPR_TILLAGE, cuts: SPR_CUTS, title: ["T5 Med Spr C+"], tx: 72, ty: [456], centered: false },
  { col: 1, row: 2, layers: T6_LAYERS, days: T6_DAYS, yMax: 100, tillage: SPR_TILLAGE, cuts: SPR_CUTS, title: ["T6 Dac Spr C+"], tx: 534, ty: [454], centered: false },
  { col: 0, row: 3, layers: T9_LAYERS, days: T9_DAYS, yMax: 100, tillage: T9_TILLAGE, cuts: WB_CUTS, title: ["T9 WB T+", "scale 1"], tx: 132, ty: [708, 730], centered: true },
  { col: 1, row: 3, layers: T9_LAYERS, days: T9_DAYS, yMax: 400, tillage: T9_TILLAGE, cuts: WB_CUTS, title: ["T9 WB T+", "scale 2"], tx: 596, ty: [707, 729], centered: true },
  { col: 0, row: 4, layers: T10_LAYERS, days: T10_DAYS, yMax: 100, tillage: T10_TILLAGE, cuts: WB_CUTS, title: ["T10 WB T-", "scale 1"], tx: 132, ty: [919, 942], centered: true },
  { col: 1, row: 4, layers: T10_LAYERS, days: T10_DAYS, yMax: 400, tillage: T10_TILLAGE, cuts: WB_CUTS, title: ["T10 WB T-", "scale 2"], tx: 596, ty: [917, 937], centered: true },
  { col: 0, row: 5, layers: T11_LAYERS, days: T11_DAYS, yMax: 100, tillage: T11_TILLAGE, cuts: WB_CUTS, title: ["T11 WB T+M", "scale 1"], tx: 140, ty: [1127, 1149], centered: true },
  { col: 1, row: 5, layers: T11_LAYERS, days: T11_DAYS, yMax: 400, tillage: T11_TILLAGE, cuts: WB_CUTS, title: ["T11 WB T+M", "scale 2"], tx: 603, ty: [1127, 1149], centered: true },
];

function makeStripes(kind: string): CanvasPattern | string {
  const tile = document.createElement("canvas");
  const size = kind === "bromus" ? 4 : 8;
  tile.width = size;
  tile.height = size;
  const c = tile.getContext("2d")!;
  if (kind === "bromus") {
    c.fillStyle = "#eed0e0";
    c.fillRect(0, 0, size, size);
    c.fillStyle = "#993366";
    c.fillRect(0, 0, 2, size);
  } else {
    c.fillStyle = "#ffffff";
    c.fillRect(0, 0, size, size);
    c.strokeStyle = kind === "alopecurus" ? "#000000" : "#33CCCC";
    c.lineWidth = kind === "alopecurus" ? 3.4 : 3;
    for (let o = -size; o <= size; o += size) {
      c.beginPath();
      if (kind === "alopecurus") {
        c.moveTo(o, 0);
        c.lineTo(o + size, size);
      } else {
        c.moveTo(o, size);
        c.lineTo(o + size, 0);
      }
      c.stroke();
    }
  }
  return c.createPattern(tile, "repeat")!;
}

const SWATCH_BG: Record<string, string> = {
  alopecurus: "repeating-linear-gradient(45deg,#000 0 2px,#fff 2px 4px)",
  lolium: "repeating-linear-gradient(-45deg,#33CCCC 0 2.5px,#fff 2.5px 5px)",
  bromus: "repeating-linear-gradient(90deg,#993366 0 2px,#eed0e0 2px 4px)",
};

const managementPlugin = {
  id: "management",
  afterDatasetsDraw(chart: any, _a: any, opts: any) {
    const { ctx, chartArea, scales } = chart;
    const { x, y } = scales;
    ctx.save();
    ctx.strokeStyle = "#000";
    ctx.lineWidth = 2;
    for (const d of AXIS_TILLAGE) {
      const px = x.getPixelForValue(d);
      ctx.beginPath();
      ctx.moveTo(px, chartArea.top - 2);
      ctx.lineTo(px, chartArea.bottom + opts.axisExt);
      ctx.stroke();
    }
    for (const d of opts.tillage) {
      const px = x.getPixelForValue(d);
      ctx.beginPath();
      ctx.moveTo(px, chartArea.top);
      ctx.lineTo(px, chartArea.bottom + opts.lineExt);
      ctx.stroke();
    }
    ctx.lineWidth = 1;
    ctx.setLineDash([2.5, 2]);
    for (const d of opts.cuts) {
      const px = Math.round(x.getPixelForValue(d)) + 0.5;
      ctx.beginPath();
      ctx.moveTo(px, chartArea.top);
      ctx.lineTo(px, chartArea.bottom + opts.lineExt);
      ctx.stroke();
    }
    ctx.setLineDash([]);
    if (opts.connector) {
      ctx.lineWidth = 1;
      ctx.beginPath();
      ctx.moveTo(chartArea.left - 31, chartArea.top);
      ctx.lineTo(chartArea.left, y.getPixelForValue(100));
      ctx.stroke();
    }
    ctx.restore();
  },
};

function Panel({ def }: { def: PanelDef }) {
  const ref = useRef<HTMLCanvasElement | null>(null);
  const left = COLUMN_LEFT[def.col] - LEFT_GUTTER;
  const top = ROW_TOP[def.row] - TOP_GUTTER;
  const plotW = COLUMN_RIGHT[def.col] - COLUMN_LEFT[def.col];
  const plotH = ROW_BOTTOM[def.row] - ROW_TOP[def.row];
  const pad = ROW_PAD[def.row];
  const width = LEFT_GUTTER + plotW + 2;
  const height = Math.round(TOP_GUTTER + plotH + pad);
  const major = def.yMax === 100 ? 20 : 100;
  const minor = def.yMax === 100 ? 10 : 20;

  useEffect(() => {
    const datasets = def.layers.map(([key, values], i) => {
      const fillStyle = SWATCH_BG[key] ? makeStripes(key) : COLORS[key];
      const isTop = key === "veronica";
      return {
        label: LEGEND_NAMES[LEGEND_KEYS.indexOf(key)] ?? "Other",
        data: def.days.map((d, j) => ({ x: d, y: values[j] ?? 0 })),
        backgroundColor: fillStyle,
        borderColor: isTop ? COLORS.veronica : "transparent",
        borderWidth: isTop ? 1 : 0,
        pointRadius: 0,
        tension: 0,
        fill: i === 0 ? "origin" : "-1",
      };
    });
    const chart = new Chart(ref.current as HTMLCanvasElement, {
      type: "line",
      data: { datasets } as any,
      options: {
        animation: false,
        responsive: false,
        devicePixelRatio: 1,
        layout: { autoPadding: false, padding: { top: TOP_GUTTER, right: 2, left: 0, bottom: 0 } },
        plugins: {
          legend: { display: false },
          tooltip: { enabled: false },
          management: {
            tillage: def.tillage,
            cuts: def.cuts,
            lineExt: ROW_LINE_EXT[def.row],
            axisExt: ROW_AXIS_EXT[def.row],
            connector: def.yMax !== 100,
          },
        } as any,
        scales: {
          x: {
            type: "linear",
            min: 0,
            max: 964,
            z: 1,
            afterFit: (s: any) => { s.height = pad; },
            afterBuildTicks: (s: any) => { s.ticks = TICK_DAYS.map((value) => ({ value })); },
            grid: { drawOnChartArea: false, drawTicks: true, tickLength: 3, tickColor: "#333" },
            border: { color: "#000", width: 2 },
            ticks: {
              display: pad > 30,
              autoSkip: false,
              maxRotation: 90,
              minRotation: 90,
              padding: 4,
              color: "#333",
              font: { family: FONT, size: 10.5 },
              callback: (v: any) => TICK_LABELS[TICK_DAYS.indexOf(Number(v))] ?? "",
            },
          },
          y: {
            type: "linear",
            stacked: true,
            min: 0,
            max: def.yMax,
            afterFit: (s: any) => { s.width = LEFT_GUTTER; },
            grid: {
              tickLength: 5,
              lineWidth: 1,
              color: (c: any) => (c.tick && c.tick.value % major === 0 ? "#333" : "rgba(0,0,0,0)"),
              tickColor: "#444",
            },
            border: { color: "#666", width: 1 },
            ticks: {
              stepSize: minor,
              autoSkip: false,
              padding: 2,
              color: "#333",
              font: { family: FONT, size: 11 },
              callback: (v: any) => (Number(v) % major === 0 ? String(v) : ""),
            },
          },
        },
      } as any,
      plugins: [managementPlugin] as any,
    });
    return () => chart.destroy();
  }, []);

  return <canvas ref={ref} width={width} height={height} style={{ position: "absolute", left, top, width, height }} />;
}

function abs(left: number, top: number, extra: React.CSSProperties = {}): React.CSSProperties {
  return { position: "absolute", left, top, whiteSpace: "nowrap", fontFamily: FONT, color: "#000", ...extra };
}

export default function App() {
  return (
    <div style={{ position: "absolute", left: 0, top: 0, width: 1180, height: 1371, overflow: "hidden", background: "#fff" }}>
      {PANELS.map((p, i) => <Panel key={i} def={p} />)}

      {PANELS.map((p, i) =>
        p.title.map((t, j) => (
          <div key={`${i}-${j}`} style={abs(p.tx, p.ty[j], {
            fontWeight: 700, fontSize: 17, lineHeight: "20px",
            transform: p.centered ? "translate(-50%,-50%)" : "translateY(-50%)",
          })}>{t}</div>
        ))
      )}

      <div style={abs(23, 691, { fontSize: 30.5, lineHeight: "32px", transform: "translate(-50%,-50%) rotate(-90deg)" })}>
        <b style={{ fontSize: 29 }}>Mean plant density</b> [plants m<sup style={{ fontSize: 18, lineHeight: 0 }}>-2</sup>]
      </div>
      <div style={abs(512, 1357, { fontWeight: 700, fontSize: 29, lineHeight: "32px", transform: "translate(-50%,-50%)" })}>Time</div>

      <div style={abs(970, 228, { fontWeight: 700, fontSize: 29.3, lineHeight: "32px", transform: "translateY(-50%)" })}>Management</div>
      <div style={{ position: "absolute", left: 982, top: 263, width: 2, height: 36, background: "#000" }} />
      <div style={abs(998, 281, { fontSize: 23.2, lineHeight: "28px", transform: "translateY(-50%)" })}>Soil tillage</div>
      <div style={{ position: "absolute", left: 982.5, top: 319, height: 39, borderLeft: "1px dashed #000" }} />
      <div style={abs(998, 337, { fontSize: 23.2, lineHeight: "28px", transform: "translateY(-50%)" })}>Cutting</div>

      <div style={abs(972, 471, { fontWeight: 700, fontSize: 29.5, lineHeight: "32px", transform: "translateY(-50%)" })}>Weed species</div>
      {LEGEND_KEYS.map((k, i) => {
        const y = 508 + i * 25.09;
        return (
          <React.Fragment key={k}>
            <div style={{
              position: "absolute", left: 973, top: y - 6, width: 11, height: 11, border: "1px solid #666",
              background: SWATCH_BG[k] ?? COLORS[k],
            }} />
            <div style={abs(990, y, {
              fontSize: 16.7, lineHeight: "20px", transform: "translateY(-50%)",
              fontStyle: LEGEND_UPRIGHT.includes(LEGEND_NAMES[i]) ? "normal" : "italic",
            })}>{LEGEND_NAMES[i]}</div>
          </React.Fragment>
        );
      })}
    </div>
  );
}
